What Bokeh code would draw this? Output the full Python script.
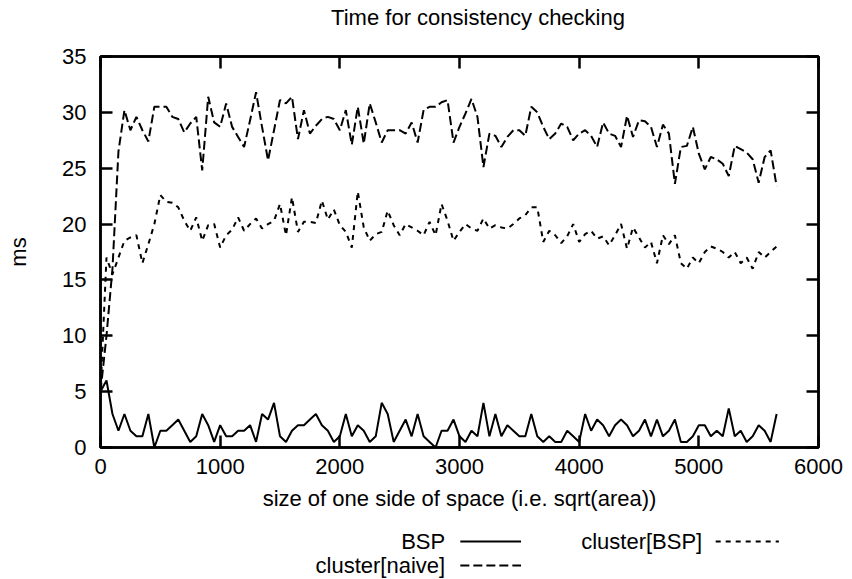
from bokeh.plotting import figure
from bokeh.models import Range1d, FixedTicker, LinearAxis
from bokeh.layouts import column
from bokeh.embed import file_html
from bokeh.resources import INLINE
from bokeh.core.properties import value

# ---------------- data ----------------
size_x = list(range(0, 5651, 50))  # sample grid: 0, 50, ..., 5650

bsp = [
    5.0, 6.0, 3.0, 1.5, 3.0, 1.5, 1.0, 1.0, 3.0, 0.0,
    1.5, 1.5, 2.0, 2.5, 1.5, 0.5, 1.0, 3.0, 2.0, 0.5,
    2.0, 1.0, 1.0, 1.5, 1.5, 2.0, 0.5, 3.0, 2.5, 4.0,
    1.0, 0.5, 1.5, 2.0, 2.0, 2.5, 3.0, 2.0, 1.5, 0.5,
    1.0, 3.0, 1.0, 2.0, 1.5, 0.5, 1.0, 4.0, 3.0, 0.5,
    1.5, 2.5, 1.0, 3.0, 1.0, 0.5, 0.0, 1.5, 1.5, 2.5,
    1.0, 0.5, 1.5, 1.0, 4.0, 1.0, 3.0, 1.0, 2.0, 1.5,
    1.0, 1.0, 3.0, 1.0, 0.5, 1.0, 0.5, 0.5, 1.5, 1.0,
    0.5, 3.0, 1.5, 2.5, 2.0, 1.0, 2.0, 2.5, 2.0, 1.0,
    1.5, 2.5, 1.0, 2.5, 1.0, 1.5, 2.5, 0.5, 0.5, 1.0,
    2.0, 2.0, 1.0, 1.5, 1.0, 3.5, 1.0, 1.5, 0.5, 1.0,
    2.0, 1.5, 0.5, 3.0,
]

cluster_naive = [
    5.0, 10.0, 16.0, 26.5, 30.2, 28.4, 29.6, 28.4, 27.4, 30.5,
    30.5, 30.5, 29.6, 29.4, 28.2, 29.0, 29.6, 24.8, 31.4, 29.1,
    28.7, 30.8, 28.7, 27.8, 26.9, 29.3, 31.8, 28.7, 25.7, 28.4,
    31.1, 30.8, 31.4, 27.6, 30.2, 28.1, 28.8, 29.4, 29.6, 29.4,
    28.4, 30.2, 27.1, 30.5, 27.2, 30.8, 29.1, 27.3, 28.4, 28.4,
    28.4, 28.1, 29.1, 27.3, 30.2, 30.5, 30.5, 30.9, 31.1, 27.3,
    28.7, 29.9, 31.2, 29.6, 25.1, 28.1, 27.9, 26.9, 27.8, 28.4,
    28.4, 27.9, 30.5, 30.0, 28.7, 27.6, 28.1, 29.0, 28.7, 27.5,
    28.1, 28.4, 27.9, 26.9, 29.1, 28.1, 27.9, 26.9, 29.7, 27.8,
    29.3, 29.2, 28.7, 26.9, 28.9, 28.1, 23.6, 26.9, 27.0, 28.7,
    26.3, 24.9, 26.0, 25.8, 25.4, 24.3, 27.0, 26.7, 26.4, 25.8,
    23.7, 26.0, 26.6, 23.4,
]

cluster_bsp = [
    5.0, 17.0, 15.5, 17.0, 18.5, 18.8, 19.0, 16.5, 18.2, 20.0,
    22.6, 22.0, 21.9, 21.5, 20.3, 19.4, 20.6, 18.5, 19.9, 20.0,
    17.9, 19.0, 19.5, 20.6, 19.4, 20.0, 20.5, 19.6, 20.0, 20.3,
    21.8, 19.0, 22.4, 19.3, 20.2, 20.2, 20.1, 22.1, 20.4, 21.3,
    19.9, 19.3, 17.9, 22.9, 19.7, 18.5, 19.1, 19.3, 21.2, 19.9,
    19.0, 20.0, 19.7, 19.4, 19.0, 20.2, 19.0, 21.8, 20.3, 18.5,
    19.3, 20.0, 19.6, 19.4, 20.5, 19.6, 19.9, 19.7, 19.6, 20.0,
    20.5, 20.8, 21.5, 21.5, 18.4, 19.4, 19.0, 18.3, 18.9, 20.0,
    18.4, 19.1, 19.4, 18.7, 18.9, 18.1, 19.0, 20.0, 17.8, 19.7,
    18.8, 17.9, 18.4, 16.5, 19.0, 18.2, 19.0, 16.5, 16.0, 17.0,
    16.5, 17.5, 18.0, 17.8, 17.5, 17.0, 17.5, 16.5, 17.0, 16.0,
    17.5, 17.0, 17.5, 18.0,
]

x_ticks = [0, 1000, 2000, 3000, 4000, 5000, 6000]
y_ticks = [0, 5, 10, 15, 20, 25, 30, 35]
title_text = "Time for consistency checking"
x_label = "size of one side of space (i.e. sqrt(area))"
y_label = "ms"
legend_labels = ["BSP", "cluster[naive]", "cluster[BSP]"]

# ---------------- styles ----------------
FONT = "Liberation Sans"
FS = "22px"
LW = 2
AXW = 2.5
DASH_NAIVE = "9 4"
DASH_CBSP = "5 5"
W = 852
TITLE_H = 44
MAIN_H = 474          # canvas rows 44 .. 518
LEG_H = 579 - TITLE_H - MAIN_H


def blank_fig(h):
    f = figure(width=W, height=h, output_backend="svg", toolbar_location=None,
               x_range=Range1d(0, W), y_range=Range1d(h, 0),
               x_axis_location=None, y_axis_location=None, min_border=0)
    f.grid.visible = False
    f.outline_line_color = None
    return f


# ---------------- title strip ----------------
tf = blank_fig(TITLE_H)
tf.text(x=[448], y=[17], text=[title_text], text_align="center",
        text_baseline="middle", text_font=value(FONT),
        text_font_size=value(FS), text_color="black")

# ---------------- main plot ----------------
p = figure(width=W, height=MAIN_H, output_backend="svg", toolbar_location=None,
           x_range=Range1d(0, 6000), y_range=Range1d(0, 35),
           min_border_left=100, min_border_right=34,
           min_border_top=12, min_border_bottom=MAIN_H - 12 - 391)

p.xgrid.grid_line_color = None
p.ygrid.grid_line_color = None
p.outline_line_color = "black"
p.outline_line_width = AXW


def style_axis(ax, ticks, labels=True):
    ax.ticker = FixedTicker(ticks=ticks)
    ax.major_tick_in = 12
    ax.major_tick_out = 0
    ax.minor_tick_line_color = None
    ax.axis_line_width = AXW
    ax.axis_line_color = "black"
    ax.major_tick_line_width = AXW
    ax.major_tick_line_color = "black"
    ax.major_label_text_font = FONT
    if labels:
        ax.major_label_text_font_size = FS
        ax.major_label_text_color = "black"
    else:
        ax.major_label_text_font_size = "0px"
        ax.major_label_text_color = None
        ax.major_label_standoff = 0


xa = p.xaxis[0]
ya = p.yaxis[0]
style_axis(xa, x_ticks)
style_axis(ya, y_ticks)
xa.major_label_standoff = 11
ya.major_label_standoff = 14
xa.axis_label = x_label
ya.axis_label = y_label
for ax in (xa, ya):
    ax.axis_label_text_font = FONT
    ax.axis_label_text_font_size = FS
    ax.axis_label_text_font_style = "normal"
    ax.axis_label_text_color = "black"
xa.axis_label_standoff = 9
ya.axis_label_standoff = 28

top_ax = LinearAxis()
style_axis(top_ax, x_ticks, labels=False)
p.add_layout(top_ax, "above")
right_ax = LinearAxis()
style_axis(right_ax, y_ticks, labels=False)
p.add_layout(right_ax, "right")

p.line(size_x, bsp, line_color="black", line_width=LW)
p.line(size_x, cluster_naive, line_color="black", line_width=LW, line_dash=DASH_NAIVE)
p.line(size_x, cluster_bsp, line_color="black", line_width=LW, line_dash=DASH_CBSP)

# ---------------- legend strip (gnuplot style: text, then sample) ----------------
leg = blank_fig(LEG_H)
ROW1, ROW2 = 23, 47
leg.text(x=[409, 409, 714], y=[ROW1, ROW2, ROW1], text=legend_labels,
         text_align="right", text_baseline="middle",
         text_font=value(FONT), text_font_size=value(FS), text_color="black")
leg.line([427, 499], [ROW1, ROW1], line_color="black", line_width=LW)
leg.line([427, 499], [ROW2, ROW2], line_color="black", line_width=LW, line_dash=DASH_NAIVE)
leg.line([730, 805], [ROW1, ROW1], line_color="black", line_width=LW, line_dash=DASH_CBSP)

layout = column(tf, p, leg, spacing=0)
open("out.html", "w").write(file_html(layout, INLINE))
